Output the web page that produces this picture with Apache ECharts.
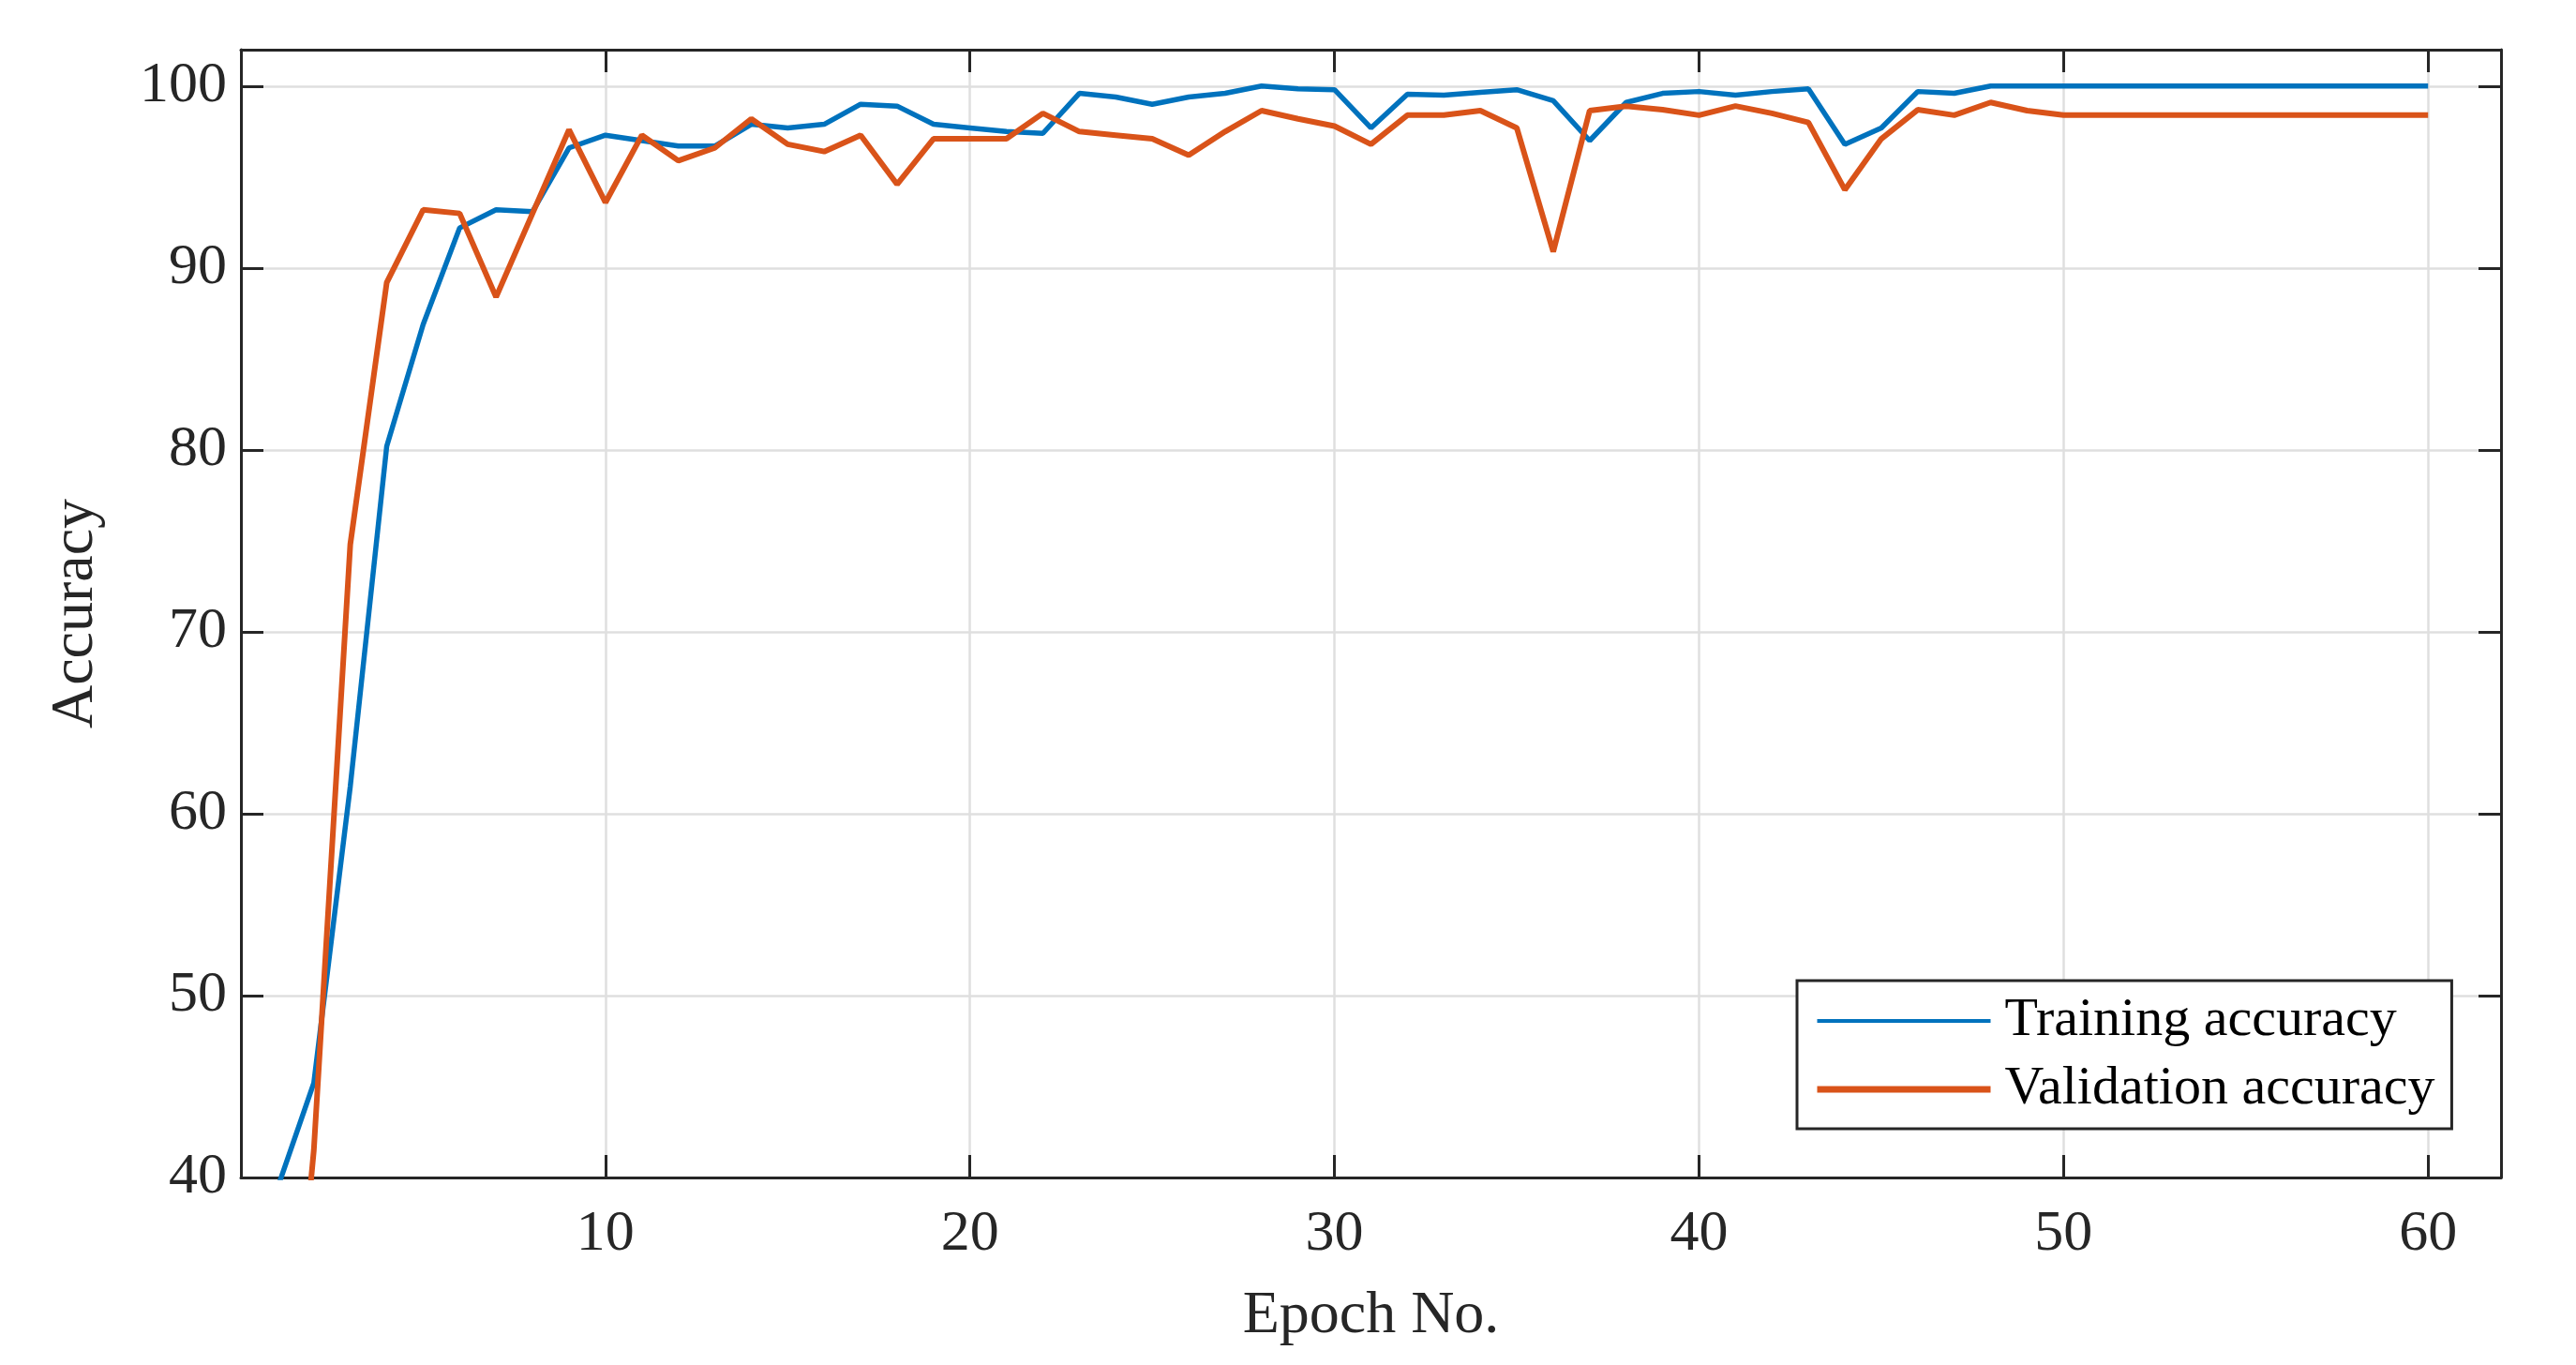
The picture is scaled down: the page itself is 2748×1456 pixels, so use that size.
<!DOCTYPE html>
<html>
<head>
<meta charset="utf-8">
<script src="https://cdn.jsdelivr.net/npm/echarts@6/dist/echarts.min.js"></script>
<style>
	html, body { margin: 0; padding: 0; background: #ffffff; }
	#chart { width: 2748px; height: 1456px; }
</style>
</head>
<body>
<div id="chart"></div>
<script>
// epoch numbers 1..60
var epochs = [
	1, 2, 3, 4, 5, 6, 7, 8, 9, 10,
	11, 12, 13, 14, 15, 16, 17, 18, 19, 20,
	21, 22, 23, 24, 25, 26, 27, 28, 29, 30,
	31, 32, 33, 34, 35, 36, 37, 38, 39, 40,
	41, 42, 43, 44, 45, 46, 47, 48, 49, 50,
	51, 52, 53, 54, 55, 56, 57, 58, 59, 60
];

var trainingAcc = [
	39.4, 45.2, 61.5, 80.2, 86.9, 92.2, 93.2, 93.1, 96.6, 97.3,
	97.0, 96.7, 96.7, 97.9, 97.7, 97.9, 99.0, 98.9, 97.9, 97.7,
	97.5, 97.4, 99.6, 99.4, 99.0, 99.4, 99.6, 100.0, 99.85, 99.8,
	97.7, 99.55, 99.5, 99.65, 99.8, 99.2, 97.0, 99.1, 99.6, 99.7,
	99.5, 99.7, 99.85, 96.8, 97.7, 99.7, 99.6, 100, 100, 100,
	100, 100, 100, 100, 100, 100, 100, 100, 100, 100
];

var validationAcc = [
	20.0, 41.5, 74.8, 89.2, 93.2, 93.0, 88.4, 93.0, 97.6, 93.6,
	97.3, 95.9, 96.6, 98.2, 96.8, 96.4, 97.3, 94.6, 97.1, 97.1,
	97.1, 98.5, 97.5, 97.3, 97.1, 96.2, 97.5, 98.65, 98.2, 97.8,
	96.8, 98.4, 98.4, 98.65, 97.7, 90.9, 98.65, 98.9, 98.7, 98.4,
	98.9, 98.5, 98.0, 94.3, 97.1, 98.7, 98.4, 99.1, 98.65, 98.4,
	98.4, 98.4, 98.4, 98.4, 98.4, 98.4, 98.4, 98.4, 98.4, 98.4
];

var seriesNames = ['Training accuracy', 'Validation accuracy'];
var xTickLabels = [10, 20, 30, 40, 50, 60];
var yTickLabels = [40, 50, 60, 70, 80, 90, 100];

var FONT = 'Liberation Serif';
var INK = '#262626';
var BLUE = '#0072BD';
var ORANGE = '#D95319';

function pairs(xs, ys)
{
	var out = [];
	for (var i = 0; i < xs.length; i++)
		out.push([xs[i], ys[i]]);
	return out;
}

function boxAxis(extra)
{
	var base = {
		axisLine: { show: true, onZero: false, lineStyle: { color: INK, width: 3 } },
		axisTick: { show: true, inside: true, length: 24, lineStyle: { color: INK, width: 3 } },
		axisLabel: { show: false },
		splitLine: { show: false }
	};
	for (var k in extra) base[k] = extra[k];
	return base;
}

var chart = echarts.init(document.getElementById('chart'));

var options =
{
	backgroundColor: '#ffffff',
	animation: false,
	textStyle: { fontFamily: FONT, color: INK },
	grid: { left: 257, right: 80, top: 53, bottom: 200, containLabel: false },
	xAxis: [
		boxAxis({
			type: 'value', position: 'bottom', min: 0, max: 62, interval: 10,
			name: 'Epoch No.', nameLocation: 'middle', nameGap: 116,
			nameTextStyle: { fontFamily: FONT, fontSize: 64, color: INK },
			axisLabel: {
				show: true, margin: 30, fontFamily: FONT, fontSize: 62, color: INK,
				formatter: function(v) { return xTickLabels.indexOf(v) >= 0 ? String(v) : ''; }
			},
			splitLine: { show: true, lineStyle: { color: '#dfdfdf', width: 2.5 } }
		}),
		boxAxis({ type: 'value', position: 'top', min: 0, max: 62, interval: 10 })
	],
	yAxis: [
		boxAxis({
			type: 'value', position: 'left', min: 40, max: 102, interval: 10,
			name: 'Accuracy', nameLocation: 'middle', nameGap: 144, nameRotate: 90,
			nameTextStyle: { fontFamily: FONT, fontSize: 64, color: INK },
			axisLabel: {
				show: true, margin: 15, fontFamily: FONT, fontSize: 62, color: INK,
				formatter: function(v) { return yTickLabels.indexOf(v) >= 0 ? String(v) : ''; }
			},
			splitLine: { show: true, lineStyle: { color: '#dfdfdf', width: 2.5 } }
		}),
		boxAxis({ type: 'value', position: 'right', min: 40, max: 102, interval: 10 })
	],
	legend: {
		orient: 'vertical',
		left: 1917,
		top: 1046,
		padding: [14, 18, 13, 18],
		itemWidth: 185,
		itemHeight: 40,
		itemGap: 15,
		backgroundColor: '#ffffff',
		borderColor: INK,
		borderWidth: 3,
		borderRadius: 0,
		textStyle: { fontFamily: FONT, fontSize: 58, lineHeight: 50, color: '#000000', padding: [8, 0, 0, 10] },
		data: [
			{ name: seriesNames[0], itemStyle: { opacity: 0, borderWidth: 0 }, lineStyle: { color: BLUE, width: 4 } },
			{ name: seriesNames[1], itemStyle: { opacity: 0, borderWidth: 0 }, lineStyle: { color: ORANGE, width: 7 } }
		]
	},
	series: [
		{
			name: seriesNames[0],
			type: 'line',
			data: pairs(epochs, trainingAcc),
			symbol: 'none',
			clip: true,
			lineStyle: { color: BLUE, width: 5.5 },
			itemStyle: { color: BLUE }
		},
		{
			name: seriesNames[1],
			type: 'line',
			data: pairs(epochs, validationAcc),
			symbol: 'none',
			clip: true,
			lineStyle: { color: ORANGE, width: 6 },
			itemStyle: { color: ORANGE }
		}
	]
};

chart.setOption(options);
</script>
</body>
</html>
